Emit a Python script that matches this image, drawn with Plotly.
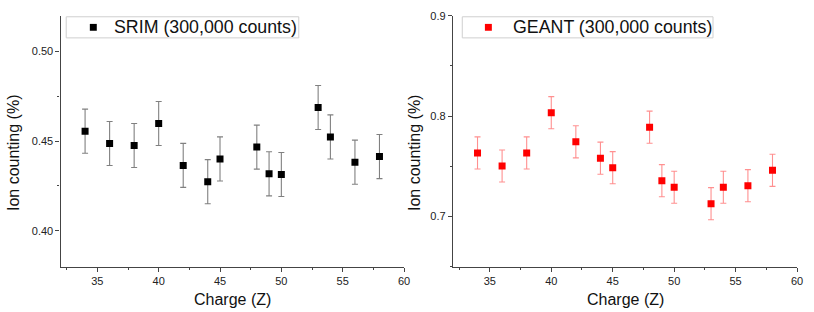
import plotly.graph_objects as go

charge = [34, 36, 38, 40, 42, 44, 45, 48, 49, 50, 53, 54, 56, 58]
srim_vals = [0.4556, 0.4487, 0.4476, 0.4599, 0.4365, 0.4274, 0.4401, 0.4467,
             0.4318, 0.4314, 0.4688, 0.4524, 0.4383, 0.4414]
srim_err = [0.0123] * 14
geant_vals = [0.7633, 0.7503, 0.7633, 0.8034, 0.7744, 0.7581, 0.7486, 0.7890,
              0.7356, 0.7291, 0.7127, 0.7291, 0.7307, 0.7460]
geant_err = [0.0160] * 14

srim_name = "SRIM (300,000 counts)"
geant_name = "GEANT (300,000 counts)"
x_title = "Charge (Z)"
y_title = "Ion counting (%)"

FONT = "Liberation Sans, Arial, sans-serif"
W, H = 814, 312


def px_x(p):
    return p / W


def px_y(p):
    return 1 - p / H


fig = go.Figure()
fig.add_trace(go.Scatter(
    x=charge, y=srim_vals, mode="markers", name=srim_name,
    marker=dict(symbol="square", size=7, color="black"),
    error_y=dict(type="data", array=srim_err, color="#808080", thickness=1.1, width=3),
    xaxis="x", yaxis="y", showlegend=False,
))
fig.add_trace(go.Scatter(
    x=charge, y=geant_vals, mode="markers", name=geant_name,
    marker=dict(symbol="square", size=7, color="#ff0000"),
    error_y=dict(type="data", array=geant_err, color="#ff9090", thickness=1.1, width=3),
    xaxis="x2", yaxis="y2", showlegend=False,
))

axis_common = dict(
    showline=True, linecolor="#444", linewidth=1.3, mirror=False,
    ticks="outside", ticklen=4, tickwidth=1, tickcolor="#444",
    showgrid=False, zeroline=False,
    tickfont=dict(family=FONT, size=11, color="#222"),
)

shapes = []
annotations = []


def legend_box(x0, x1, y0, y1, mx, tx, color, label):
    shapes.append(dict(type="rect", xref="paper", yref="paper",
                       x0=px_x(x0), x1=px_x(x1), y0=px_y(y1), y1=px_y(y0),
                       line=dict(color="#cfcfcf", width=1), fillcolor="white"))
    ym = (y0 + y1) / 2
    shapes.append(dict(type="rect", xref="paper", yref="paper",
                       x0=px_x(mx - 3.5), x1=px_x(mx + 3.5),
                       y0=px_y(ym + 3.5), y1=px_y(ym - 3.5),
                       line=dict(width=0), fillcolor=color))
    annotations.append(dict(text=label, x=px_x(tx), y=px_y(ym), xref="paper", yref="paper",
                            showarrow=False, xanchor="left", yanchor="middle",
                            font=dict(family=FONT, size=17.8, color="#111")))


legend_box(66.7, 301, 11, 32.5, 94, 112.5, "black", srim_name)
legend_box(465.7, 718.3, 11, 32.5, 492, 515, "#ff0000", geant_name)

for cx in [(61 + 407) / 2, (456.3 + 803) / 2]:
    annotations.append(dict(text=x_title, x=px_x(cx), y=px_y(299), xref="paper", yref="paper",
                            showarrow=False, font=dict(family=FONT, size=16, color="#111"),
                            xanchor="center", yanchor="middle"))
for cx in [13, 417]:
    annotations.append(dict(text=y_title, x=px_x(cx), y=px_y(149), xref="paper", yref="paper",
                            showarrow=False, textangle=-90,
                            font=dict(family=FONT, size=16, color="#111"),
                            xanchor="center", yanchor="middle"))

fig.update_layout(
    width=W, height=H,
    margin=dict(l=0, r=0, t=0, b=0),
    paper_bgcolor="white", plot_bgcolor="white",
    font=dict(family=FONT, color="#111"),
    showlegend=False,
    xaxis=dict(domain=[px_x(61), px_x(407)], range=[32, 60], dtick=5, anchor="y",
               minor=dict(ticks="outside", dtick=2.5, ticklen=2, tickcolor="#444"),
               **axis_common),
    yaxis=dict(domain=[px_y(265.7), px_y(10)], range=[0.38, 0.52], dtick=0.05,
               tickformat=".2f", anchor="x",
               minor=dict(ticks="outside", dtick=0.025, ticklen=2, tickcolor="#444"),
               **axis_common),
    xaxis2=dict(domain=[px_x(456.3), px_x(803)], range=[32, 60], dtick=5, anchor="y2",
                minor=dict(ticks="outside", dtick=2.5, ticklen=2, tickcolor="#444"),
                **axis_common),
    yaxis2=dict(domain=[px_y(265.7), px_y(10)], range=[0.65, 0.9], dtick=0.1,
                tickformat=".1f", anchor="x2",
                minor=dict(ticks="outside", dtick=0.05, ticklen=2, tickcolor="#444"),
                **axis_common),
    shapes=shapes,
    annotations=annotations,
)

fig.write_html("out.html", config={"displayModeBar": False},
               post_script="document.body.style.margin='0';")
